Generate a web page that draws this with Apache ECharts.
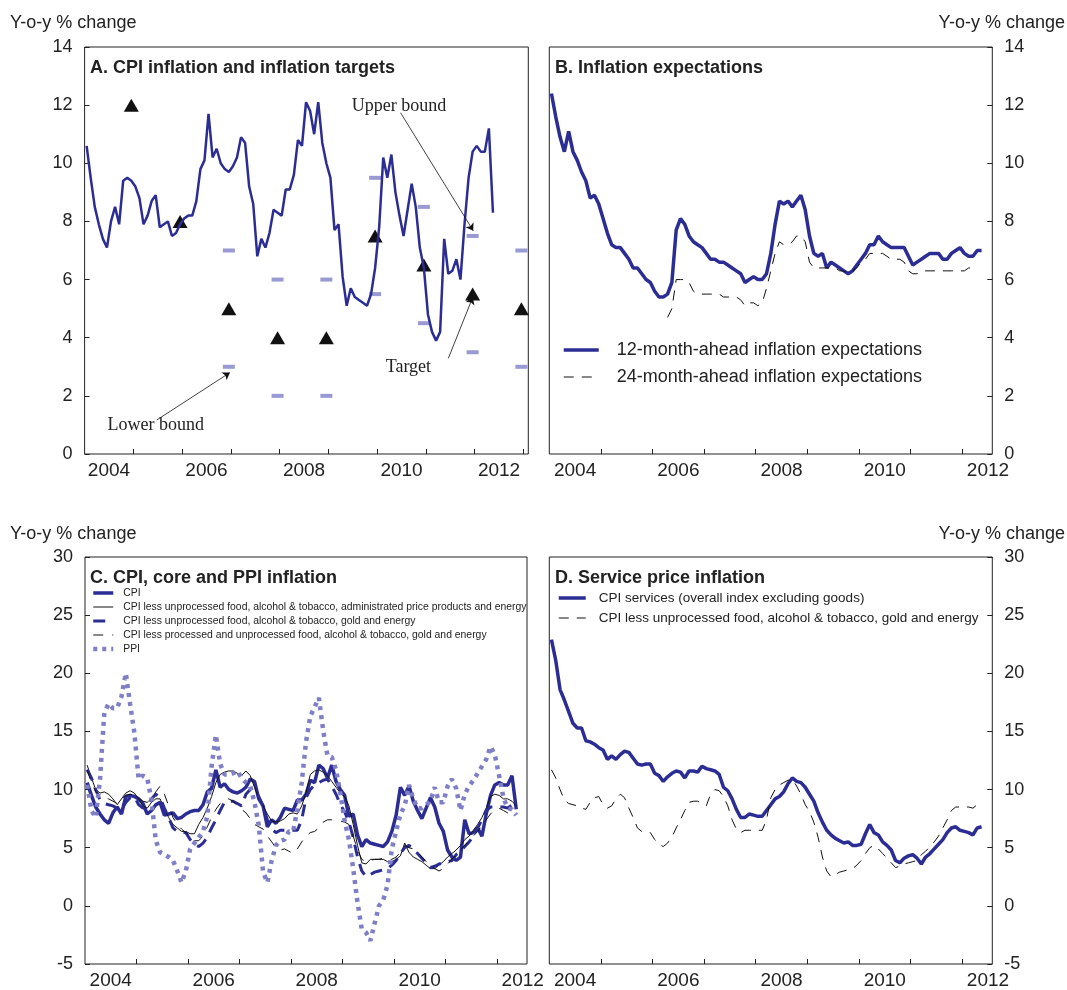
<!DOCTYPE html>
<html>
<head>
<meta charset="UTF-8">
<title>Inflation panels</title>
<script src="https://cdn.jsdelivr.net/npm/echarts@6/dist/echarts.min.js"></script>
<style>
html, body { margin: 0; padding: 0; background: #fff; }
#chart { width: 1067px; height: 990px; }
</style>
</head>
<body>
<div id="chart"></div>
<script>
// all monthly series start in January 2004
var START = 2004;

// A / C: headline CPI
var cpi = [10.6, 9.5, 8.5, 7.9, 7.4, 7.1, 8.0, 8.5, 7.9, 9.4,
	9.5, 9.4, 9.2, 8.8, 7.9, 8.2, 8.7, 8.9, 7.8, 7.9,
	8.0, 7.5, 7.6, 7.9, 8.1, 8.2, 8.2, 8.7, 9.8, 10.1,
	11.7, 10.2, 10.5, 10.0, 9.8, 9.7, 9.9, 10.2, 10.9, 10.7,
	9.2, 8.6, 6.8, 7.4, 7.1, 7.6, 8.4, 8.3, 8.2, 9.1,
	9.1, 9.6, 10.8, 10.6, 12.1, 11.8, 11.0, 12.1, 10.7, 10.0,
	9.5, 7.7, 7.9, 6.1, 5.1, 5.7, 5.4, 5.3, 5.2, 5.1,
	5.5, 6.4, 7.8, 10.2, 9.5, 10.3, 9.0, 8.2, 7.5, 8.4,
	9.3, 8.5, 7.1, 6.4, 4.8, 4.2, 3.9, 4.2, 7.4, 6.2,
	6.3, 6.7, 6.0, 7.9, 9.5, 10.4, 10.6, 10.4, 10.4, 11.2,
	8.3];

// A: inflation targets, plotted at December of each year
var targetYears = [2004, 2005, 2006, 2007, 2008, 2009, 2010, 2011, 2012];
var target = [12, 8, 5, 4, 4, 7.5, 6.5, 5.5, 5];
var upperBound = [null, null, 7, 6, 6, 9.5, 8.5, 7.5, 7];
var lowerBound = [null, null, 3, 2, 2, 5.5, 4.5, 3.5, 3];

// B: inflation expectations
var exp12 = [12.4, 11.6, 10.9, 10.4, 11.1, 10.4, 10.1, 9.7, 9.4, 8.8,
	8.9, 8.6, 8.1, 7.6, 7.2, 7.1, 7.1, 6.9, 6.7, 6.4,
	6.4, 6.2, 6.0, 5.9, 5.6, 5.4, 5.4, 5.5, 5.9, 7.7,
	8.1, 7.9, 7.5, 7.3, 7.2, 7.1, 6.9, 6.7, 6.7, 6.6,
	6.6, 6.5, 6.4, 6.3, 6.2, 5.9, 6.0, 6.1, 6.0, 6.0,
	6.2, 6.9, 7.9, 8.7, 8.6, 8.7, 8.5, 8.7, 8.9, 8.4,
	7.5, 6.9, 6.8, 6.9, 6.4, 6.6, 6.5, 6.4, 6.3, 6.2,
	6.3, 6.5, 6.7, 6.9, 7.2, 7.2, 7.5, 7.3, 7.2, 7.1,
	7.1, 7.1, 7.1, 6.8, 6.5, 6.6, 6.7, 6.8, 6.9, 6.9,
	6.9, 6.7, 6.7, 6.9, 7.0, 7.1, 6.9, 6.8, 6.8, 7.0,
	7.0];
var exp24 = [null, null, null, null, null, null, null, null, null, null,
	null, null, null, null, null, null, null, null, null, null,
	null, null, null, null, null, null, null, 4.7, 5.0, 6.0,
	6.0, 6.0, 5.9, 5.6, 5.5, 5.5, 5.5, 5.5, 5.5, 5.5,
	5.4, 5.4, 5.4, 5.4, 5.3, 5.1, 5.2, 5.2, 5.1, 5.2,
	5.7, 6.3, 6.9, 7.3, 7.2, 7.2, 7.3, 7.5, 7.5, 7.3,
	6.6, 6.4, 6.4, 6.4, 6.4, 6.4, 6.4, 6.3, 6.3, 6.2,
	6.3, 6.4, 6.6, 6.7, 6.9, 6.9, 6.9, 6.9, 6.8, 6.7,
	6.7, 6.7, 6.6, 6.3, 6.2, 6.2, 6.3, 6.3, 6.3, 6.3,
	6.3, 6.3, 6.3, 6.3, 6.3, 6.3, 6.3, 6.4, 6.4];

// C: core measures and PPI
var coreAdmin = [12.1, 11.0, 10.0, 9.7, 9.8, 9.6, 9.2, 8.7, 9.2, 9.7,
	9.9, 9.7, 9.2, 8.6, 8.4, 8.9, 9.2, 9.2, 8.3, 7.6,
	7.0, 6.7, 6.4, 6.4, 6.2, 6.2, 7.0, 7.6, 8.4, 9.4,
	10.6, 11.3, 11.5, 11.6, 11.6, 11.4, 11.2, 11.6, 11.2, 10.2,
	9.2, 8.6, 7.9, 7.3, 7.2, 7.3, 7.5, 7.9, 8.0, 7.9,
	8.6, 9.7, 11.3, 11.6, 11.7, 11.5, 11.2, 10.7, 10.2, 9.7,
	9.4, 8.6, 7.0, 5.2, 3.7, 3.6, 4.0, 4.0, 4.0, 4.0,
	3.8, 3.8, 4.0, 4.3, 5.4, 4.6, 4.2, 4.0, 3.8, 3.5,
	3.2, 3.2, 3.5, 3.8, 4.2, 4.5, 4.8, 5.2, 5.7, 6.0,
	6.5, 7.0, 7.6, 8.4, 9.4, 9.6, 9.5, 9.2, 9.2, 9.0,
	8.6];
var coreGold = [11.7, 11.0, 10.0, 9.1, 8.8, 8.7, 8.6, 8.4, 8.3, 8.9,
	9.3, 9.4, 8.7, 8.4, 8.6, 9.2, 9.6, 9.3, 8.4, 7.6,
	6.7, 6.4, 6.3, 6.3, 5.7, 5.3, 5.1, 5.4, 5.9, 6.7,
	7.4, 8.2, 8.9, 9.0, 9.0, 8.8, 8.6, 9.6, 10.0, 9.9,
	9.4, 8.6, 7.4, 6.6, 6.3, 6.5, 6.5, 6.5, 6.5, 6.5,
	7.4, 9.3, 10.0, 10.4, 10.6, 10.8, 10.9, 10.3, 9.6, 8.7,
	8.1, 7.2, 5.9, 4.2, 3.0, 2.5, 2.7, 2.9, 3.0, 3.1,
	3.2, 3.5, 3.9, 4.5, 5.0, 5.2, 4.9, 4.5, 4.1, 3.7,
	3.3, 3.4, 3.6, 3.7, 3.8, 3.9, 4.4, 4.7, 5.1, 5.5,
	6.0, 6.7, 7.4, 8.2, 8.5, 8.5, 8.5, 8.5, 8.4, 8.7];
var coreProcessed = [11.7, 10.6, 9.8, 9.4, 9.3, 9.2, 9.0, 8.8, 9.2, 9.5,
	9.6, 9.5, 9.3, 9.0, 8.9, 9.2, 9.8, 10.3, 9.6, 8.6,
	7.6, 7.0, 6.6, 6.3, 6.0, 5.6, 5.6, 6.0, 6.8, 7.6,
	8.3, 8.8, 9.1, 9.2, 9.0, 8.6, 8.3, 8.0, 7.5, 7.0,
	6.8, 6.6, 6.0, 5.5, 5.0, 4.8, 4.9, 4.7, 4.5, 4.9,
	5.5, 6.0, 6.3, 6.4, 6.7, 7.2, 7.4, 7.4, 7.3, 7.3,
	7.2, 7.0, 6.0, 4.8, 4.0, 3.8, 3.9, 4.0, 4.0, 4.1,
	4.0, 4.0, 4.2, 4.6, 5.2, 5.0, 4.9, 4.6, 4.2, 3.8,
	3.5, 3.2, 3.0, 3.2, 3.6, 4.0, 4.4, 4.8, 5.2, 5.6,
	6.0, 6.4, 6.9, 7.4, 7.9, 8.3, 8.4, 8.2, 8.0, 8.2,
	8.0];
var ppi = [10.4, 8.2, 7.6, 10.9, 16.6, 17.4, 17.0, 17.0, 18.0, 20.0,
	17.4, 14.9, 10.9, 11.2, 11.0, 9.1, 5.6, 4.6, 4.4, 4.2,
	3.9, 3.0, 2.0, 3.0, 4.9, 5.4, 5.9, 6.4, 7.7, 12.0,
	14.7, 12.2, 11.3, 11.3, 11.4, 11.6, 11.0, 10.6, 10.3, 8.9,
	6.9, 2.9, 2.0, 3.9, 5.2, 5.6, 5.7, 6.4, 6.4, 8.3,
	10.6, 14.1, 16.3, 17.1, 17.9, 15.1, 12.9, 12.8, 11.7, 9.7,
	7.3, 5.7, 3.2, 0.3, -2.0, -2.3, -3.0, -1.5, 0.0, 0.5,
	1.8, 4.9, 6.4, 7.9, 8.6, 10.4, 9.2, 8.4, 8.4, 8.7,
	9.0, 10.2, 8.9, 8.9, 10.3, 10.9, 10.1, 8.2, 9.6, 10.3,
	10.8, 11.4, 12.0, 12.6, 13.7, 13.0, 11.2, 9.3, 8.4, 8.3,
	7.8];

// D: services
var services = [22.9, 21.1, 18.6, 17.7, 16.7, 15.7, 15.3, 15.3, 14.2, 14.1,
	13.9, 13.6, 13.4, 12.6, 12.9, 12.6, 13.0, 13.3, 13.2, 12.7,
	12.2, 12.1, 12.2, 12.2, 11.4, 11.2, 10.7, 11.1, 11.4, 11.6,
	11.5, 11.0, 11.6, 11.6, 11.5, 12.0, 11.8, 11.7, 11.6, 11.3,
	10.2, 9.9, 9.2, 8.3, 7.6, 7.6, 7.9, 7.8, 7.7, 7.7,
	8.2, 8.7, 9.2, 9.4, 9.8, 10.5, 11.0, 10.7, 10.6, 10.2,
	9.6, 9.0, 8.0, 7.2, 6.5, 6.1, 5.8, 5.6, 5.4, 5.5,
	5.2, 5.2, 5.3, 6.2, 7.0, 6.3, 6.1, 5.5, 5.2, 4.8,
	3.9, 3.7, 4.1, 4.3, 4.4, 4.1, 3.6, 4.2, 4.5, 4.9,
	5.3, 5.7, 6.3, 6.7, 6.8, 6.5, 6.4, 6.3, 6.1, 6.7,
	6.8];

// axis marks
var tickYears = [2005, 2006, 2007, 2008, 2009, 2010, 2011, 2012, 2013];
var labelYears = [2004, 2006, 2008, 2010, 2012];

var BLUE = '#2b2d94';
var LILAC = '#7f7fc8';
var FONT = 'Liberation Sans';

function monthly(arr) {
	return arr.map(function (v, i) { return [START + (i + 0.5) / 12, v]; });
}
function yearly(arr) {
	var out = [];
	arr.forEach(function (v, i) {
		if (v !== null) out.push([targetYears[i] + 11.5 / 12, v]);
	});
	return out;
}

function makeX(idx, max) {
	return {
		type: 'value', gridIndex: idx, min: 2004, max: max,
		axisLine: { show: false, onZero: false },
		axisTick: { inside: true, length: 5, lineStyle: { color: '#222' },
			customValues: tickYears.filter(function (y) { return y < max; }) },
		axisLabel: { customValues: labelYears.map(function (y) { return y + 0.5; }),
			formatter: function (v) { return String(Math.floor(v)); },
			fontSize: 19, color: '#222', fontFamily: FONT, margin: 7 },
		splitLine: { show: false }
	};
}
function makeY(idx, pos, min, max, step) {
	return {
		type: 'value', gridIndex: idx, position: pos, min: min, max: max, interval: step,
		axisLine: { show: false, onZero: false },
		axisTick: { show: true, inside: true, length: 5, lineStyle: { color: '#222' } },
		axisLabel: { fontSize: 18, color: '#222', fontFamily: FONT, margin: 12 },
		splitLine: { show: false }
	};
}
function line(name, ax, arr, color, width, dash) {
	return {
		name: name, type: 'line', xAxisIndex: ax, yAxisIndex: ax,
		data: monthly(arr), symbol: 'none', showSymbol: false,
		lineStyle: { color: color, width: width, type: dash || 'solid' },
		itemStyle: { color: color }
	};
}
function caption(text, pos, top) {
	var t = { text: text, top: top, padding: 0,
		textStyle: { fontSize: 18, fontWeight: 'normal', color: '#222', fontFamily: FONT } };
	for (var k in pos) t[k] = pos[k];
	return t;
}
function panelTitle(text, left, top) {
	return { text: text, left: left, top: top, padding: 0,
		textStyle: { fontSize: 18, fontWeight: 'bold', color: '#222', fontFamily: FONT } };
}

var chart = echarts.init(document.getElementById('chart'));

var gridStyle = { show: true, borderColor: '#222', borderWidth: 1, containLabel: false };
function grid(left, top, width, height) {
	return Object.assign({ left: left, top: top, width: width, height: height }, gridStyle);
}

// legend: line sample only, no symbol
var legendBase = { orient: 'vertical', selectedMode: false, padding: 0,
	lineStyle: { width: 'inherit' }, itemStyle: { opacity: 0 } };

var annot = { fontFamily: 'Liberation Serif', fontSize: 18, color: '#222' };

var option = {
	animation: false,
	backgroundColor: '#fff',
	title: [
		caption('Y-o-y % change', { left: 10 }, 14),
		caption('Y-o-y % change', { right: 2 }, 14),
		caption('Y-o-y % change', { left: 10 }, 525),
		caption('Y-o-y % change', { right: 2 }, 525),
		panelTitle('A. CPI inflation and inflation targets', 90, 59),
		panelTitle('B. Inflation expectations', 555, 59),
		panelTitle('C. CPI, core and PPI inflation', 90, 569),
		panelTitle('D. Service price inflation', 555, 569)
	],
	grid: [
		grid(84.6, 47, 443.7, 407),
		grid(549.3, 47, 443, 407),
		grid(85, 557, 442, 409),
		grid(549.3, 557, 443, 409)
	],
	xAxis: [
		makeX(0, 2013.1),
		makeX(1, 2012 + 7 / 12),
		makeX(2, 2012 + 7 / 12),
		makeX(3, 2012 + 7 / 12)
	],
	yAxis: [
		makeY(0, 'left', 0, 14, 2),
		makeY(1, 'right', 0, 14, 2),
		makeY(2, 'left', -5, 30, 5),
		makeY(3, 'right', -5, 30, 5)
	],
	legend: [
		Object.assign({
			data: ['12-month-ahead inflation expectations', '24-month-ahead inflation expectations'],
			left: 562, top: 341, itemWidth: 35, itemHeight: 14, itemGap: 9,
			textStyle: { fontSize: 18, color: '#222', fontFamily: FONT, padding: [0, 0, 0, 13] }
		}, legendBase),
		Object.assign({
			data: ['CPI',
				'CPI less unprocessed food, alcohol & tobacco, administrated price products and energy',
				'CPI less unprocessed food, alcohol & tobacco, gold and energy',
				'CPI less processed and unprocessed food, alcohol & tobacco, gold and energy',
				'PPI'],
			left: 91, top: 588, itemWidth: 20, itemHeight: 10, itemGap: 4,
			textStyle: { fontSize: 10.4, color: '#222', fontFamily: FONT, padding: [0, 0, 0, 5] }
		}, legendBase),
		Object.assign({
			data: ['CPI services (overall index excluding goods)',
				'CPI less unprocessed food, alcohol & tobacco, gold and energy '],
			left: 557, top: 591, itemWidth: 27, itemHeight: 12, itemGap: 6,
			textStyle: { fontSize: 13.5, color: '#222', fontFamily: FONT, padding: [0, 0, 0, 8] }
		}, legendBase)
	],
	series: [
		// panel A
		line('CPI inflation', 0, cpi, BLUE, 2.5),
		{
			name: 'Upper bound', type: 'scatter', xAxisIndex: 0, yAxisIndex: 0,
			data: yearly(upperBound), symbol: 'rect', symbolSize: [12, 4],
			itemStyle: { color: LILAC }
		},
		{
			name: 'Lower bound', type: 'scatter', xAxisIndex: 0, yAxisIndex: 0,
			data: yearly(lowerBound), symbol: 'rect', symbolSize: [12, 4],
			itemStyle: { color: LILAC }
		},
		{
			name: 'Target', type: 'scatter', xAxisIndex: 0, yAxisIndex: 0,
			data: yearly(target), symbol: 'triangle', symbolSize: [15, 13],
			itemStyle: { color: '#111', opacity: 1 },
			markLine: {
				silent: true, symbol: ['none', 'arrow'], symbolSize: 7,
				lineStyle: { color: '#111', width: 0.8, type: 'solid' },
				label: { show: false },
				data: [
					[{ coord: [2010.48, 11.74] }, { coord: [2011.97, 7.68] }],
					[{ coord: [2011.46, 3.29] }, { coord: [2011.96, 5.39] }],
					[{ coord: [2005.48, 1.17] }, { coord: [2006.98, 2.80] }]
				]
			},
			markPoint: {
				silent: true, symbol: 'circle', symbolSize: 0,
				label: Object.assign({ show: true, position: 'inside', formatter: '{b}' }, annot),
				data: [
					{ name: 'Upper bound', coord: [2010.45, 11.97] },
					{ name: 'Target', coord: [2010.64, 3.0] },
					{ name: 'Lower bound', coord: [2005.46, 0.98] }
				]
			}
		},
		// panel B
		line('12-month-ahead inflation expectations', 1, exp12, BLUE, 3.5),
		line('24-month-ahead inflation expectations', 1, exp24, '#111', 1, [10, 8]),
		// panel C
		line('CPI', 2, cpi, BLUE, 3.5),
		line('CPI less unprocessed food, alcohol & tobacco, administrated price products and energy', 2, coreAdmin, '#111', 1),
		line('CPI less unprocessed food, alcohol & tobacco, gold and energy', 2, coreGold, BLUE, 3, [12, 8]),
		line('CPI less processed and unprocessed food, alcohol & tobacco, gold and energy', 2, coreProcessed, '#111', 1, [10, 9]),
		line('PPI', 2, ppi, LILAC, 4.5, [4, 5]),
		// panel D
		line('CPI services (overall index excluding goods)', 3, services, BLUE, 3.5),
		line('CPI less unprocessed food, alcohol & tobacco, gold and energy ', 3, coreGold, '#111', 1, [10, 8])
	]
};

chart.setOption(option);
</script>
</body>
</html>
